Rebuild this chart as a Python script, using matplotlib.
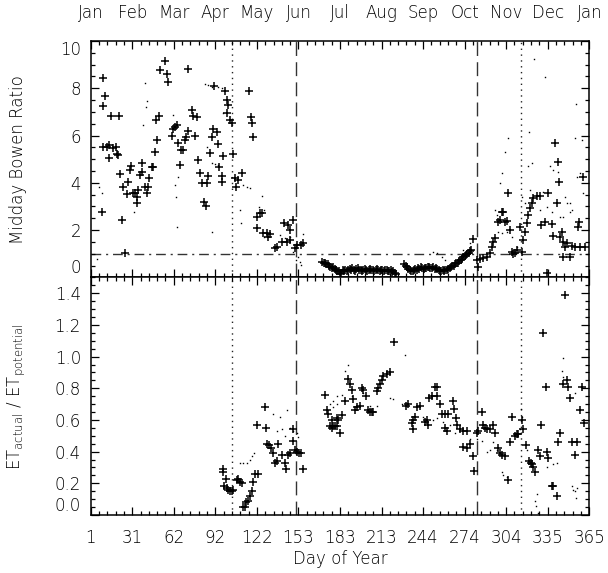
import matplotlib
matplotlib.use('Agg')
import matplotlib.pyplot as plt
from matplotlib.ticker import MultipleLocator, FixedLocator
import numpy as np

plt.rcParams['font.family'] = ['DejaVu Sans']
plt.rcParams['font.weight'] = 'light'
plt.rcParams['axes.labelweight'] = 'light'
plt.rcParams['mathtext.default'] = 'regular'

# ---------------- data ----------------
month_labels = ['Jan', 'Feb', 'Mar', 'Apr', 'May', 'Jun', 'Jul', 'Aug', 'Sep',
                'Oct', 'Nov', 'Dec', 'Jan']
day_labels = ['1', '31', '62', '92', '122', '153', '183', '213', '244', '274',
              '304', '335', '365']

# vertical reference lines (day of year)
dotted_days = [104, 315]
dashed_days = [151, 283]
bowen_ref = 1.0

# Top panel: Bowen ratio, '+' markers (spring / fall)
top_plus_day = [9.7, 9.0, 10.2, 11.4, 15.6, 21.9, 10.2, 12.7, 14.6, 17.5, 14.4, 19.5, 20.0, 21.2,
                23.6, 26.0, 22.4, 24.8, 27.3, 28.5, 29.7, 30.4, 31.6, 33.3, 34.6, 35.0, 35.8,
                37.0, 38.2, 38.7, 40.6, 42.3, 43.1, 43.8, 45.5, 46.7, 47.9, 49.2, 48.7, 51.1,
                51.6, 55.3, 56.5, 57.7, 60.1, 60.8, 62.5, 64.2, 65.0, 66.2, 66.7, 68.6, 69.8,
                70.6, 71.8, 72.3, 74.7, 75.9, 78.4, 77.2, 79.6, 80.8, 82.0, 85.7, 84.0, 84.9,
                86.9, 88.1, 89.3, 90.5, 91.0, 93.0, 94.2, 94.9, 96.6, 97.3, 96.6, 99.0, 100.3,
                101.5, 100.3, 102.7, 103.9, 104.7, 106.4, 107.1, 108.8, 111.2, 116.8, 117.8,
                118.5, 119.7, 122.2, 124.6, 122.2, 125.8, 127.1, 129.5, 131.9, 130.7, 135.5,
                136.7, 140.4, 144.1, 142.1, 145.3, 146.5, 146.5, 148.9, 150.2, 151.9, 154.3,
                155.8,
                280.3, 284.0, 282.8, 285.2, 287.7, 290.1, 292.5, 293.7, 295.0, 296.2, 298.6,
                299.8, 301.0, 302.2, 303.5, 304.7, 305.9, 307.1, 308.3, 309.6, 310.8, 312.0,
                314.4, 315.6, 316.9, 318.1, 319.3, 320.5, 321.7, 323.0, 324.2, 326.6, 329.0,
                329.5, 332.7, 335.1, 334.4, 337.5, 338.8, 340.0, 341.2, 342.4, 343.1, 343.6,
                344.8, 346.1, 347.3, 346.1, 349.0, 350.9, 352.1, 354.6, 358.2, 357.0, 357.7,
                360.7, 361.9]
top_plus_val = [8.45, 2.75, 7.27, 7.67, 6.82, 6.82, 5.53, 5.50, 5.60, 5.49, 5.05, 5.53, 5.22, 5.18,
                2.43, 1.04, 4.37, 3.81, 3.53, 4.05, 4.54, 4.71, 3.58, 3.56, 3.41, 3.16, 3.70,
                4.33, 4.85, 4.47, 3.84, 3.56, 3.84, 4.19, 4.68, 4.65, 5.32, 5.81, 6.66, 6.82,
                8.77, 9.15, 8.59, 8.25, 5.98, 6.26, 6.37, 6.44, 5.69, 4.75, 5.39, 5.39, 5.81,
                5.92, 8.80, 6.20, 7.08, 6.82, 6.77, 5.98, 4.96, 4.43, 4.01, 3.98, 3.20, 3.02,
                4.29, 5.27, 5.92, 6.26, 8.09, 6.16, 5.64, 4.68, 4.29, 5.13, 4.05, 7.88, 7.50,
                7.29, 6.94, 6.65, 6.51, 5.22, 4.19, 3.84, 4.12, 4.40, 7.88, 6.77,
                6.51, 5.92, 2.57, 2.71, 2.07, 2.74, 1.86, 1.89, 1.84, 1.72, 1.23,
                1.30, 1.51, 1.51, 2.29, 2.22, 2.00, 1.58, 2.43, 1.23, 1.37, 1.37,
                1.44,
                1.61, 0.43, 0.74, 0.76, 0.81, 0.88, 1.05, 1.30, 1.51, 1.65, 2.36,
                2.43, 2.78, 2.78, 2.36, 2.40, 3.55, 2.00, 1.09, 0.99, 1.05, 1.16,
                2.15, 1.09, 1.58, 1.94, 2.31, 2.64, 2.92, 3.13, 3.34, 3.45, 3.44,
                2.22, 2.36, 3.55, 0.17, 2.25, 1.75, 5.70, 3.13, 4.89, 4.05, 1.72,
                1.94, 1.51, 1.30, 0.88, 1.44, 0.88, 1.33, 1.30, 1.30, 2.15, 2.36,
                4.26, 1.30]

# Top panel: dense summer band of '+' markers
summer_day = [170, 171, 172, 173, 174, 175, 176, 177, 178, 179,
              180, 181, 182, 183, 184, 185, 186, 187, 188, 189,
              190, 191, 192, 193, 194, 195, 196, 197, 198, 199,
              200, 201, 202, 203, 204, 205, 206, 207, 208, 209,
              210, 211, 212, 213, 214, 215, 216, 217, 218, 219,
              220, 221, 222, 223, 224,
              230, 231, 232, 233, 234, 235, 236, 237, 238, 239,
              240, 241, 242, 243, 244, 245, 246, 247, 248, 249,
              250, 251, 252, 253, 254, 255, 256, 257, 258, 259,
              260, 261, 262, 263, 264, 265, 266, 267, 268, 269,
              270, 271, 272, 273, 274, 275, 276, 277, 278, 279]
summer_val = [0.66, 0.62, 0.60, 0.57, 0.55, 0.50, 0.45, 0.40, 0.42, 0.35,
              0.30, 0.28, 0.25, 0.15, 0.20, 0.30, 0.28, 0.32, 0.25, 0.30,
              0.35, 0.30, 0.38, 0.32, 0.28, 0.35, 0.40, 0.33, 0.30, 0.28,
              0.32, 0.36, 0.30, 0.25, 0.32, 0.35, 0.30, 0.33, 0.28, 0.31,
              0.35, 0.30, 0.28, 0.32, 0.30, 0.27, 0.33, 0.30, 0.25, 0.28,
              0.30, 0.22, 0.25, 0.18, 0.15,
              0.55, 0.50, 0.42, 0.36, 0.30, 0.25, 0.28, 0.30, 0.35, 0.30,
              0.40, 0.35, 0.42, 0.38, 0.35, 0.40, 0.38, 0.42, 0.45, 0.40,
              0.38, 0.42, 0.36, 0.40, 0.35, 0.30, 0.28, 0.25, 0.30, 0.27,
              0.32, 0.30, 0.35, 0.40, 0.45, 0.50, 0.48, 0.55, 0.60, 0.62,
              0.68, 0.72, 0.78, 0.85, 0.90, 0.95, 1.00, 1.05, 1.10, 1.15]

# Top panel: small dots
top_dot_day = [7.3, 9.0, 5.8, 40.6, 42.3, 41.4, 39.4, 32.6, 61.3, 62.5, 63.3, 64.2, 65.0, 84.5,
               86.9, 89.3, 94.2, 96.6, 85.7, 89.3, 91.7, 94.2, 97.8, 89.3, 110.0, 110.5, 112.0,
               114.9, 117.3, 125.8, 124.1, 127.6, 127.6, 139.2, 142.9, 146.5, 148.9, 150.9,
               152.6, 153.8, 154.3, 156.3,
               324.6, 332.7, 355.3, 321.2, 305.4, 303.5, 301.0, 299.8, 322.9, 320.5, 336.3,
               338.8, 342.4, 354.6, 359.4, 355.8, 358.2, 360.7, 331.5, 321.7, 347.3, 350.9,
               350.9, 346.1, 296.2, 297.4, 298.6, 301.0, 304.7, 308.3, 312.0, 315.6, 318.1,
               333.9, 337.5, 343.6, 348.5, 352.1, 329.0, 277.9, 273.0, 268.2, 251.1, 253.6,
               257.2, 259.7]
top_dot_val = [3.84, 3.56, 0.76, 8.23, 7.47, 7.22, 6.44, 2.78, 6.87, 3.91, 3.41, 2.15, 4.26, 8.18,
               8.13, 8.04, 8.06, 7.99, 5.53, 4.82, 4.80, 4.75, 6.94, 1.91, 2.85, 2.31, 3.91,
               3.84, 3.77, 3.44, 2.96, 2.85, 1.72, 1.79, 1.65, 1.72, 1.09, 0.74,
               0.88, 0.67, 0.52, 1.84,
               9.22, 8.48, 7.33, 6.16, 5.88, 5.31, 4.40, 3.98, 4.82, 4.71, 4.71,
               4.54, 4.47, 5.88, 5.81, 4.26, 4.40, 3.55, 3.63, 3.70, 3.41, 3.13,
               2.78, 2.57, 2.85, 2.64, 1.94, 1.86, 1.94, 1.72, 1.30, 3.41, 3.13,
               2.99, 2.78, 2.57, 3.13, 2.85, 2.85, 1.44, 1.16, 0.74, 1.09, 1.02,
               0.88, 0.74]

# Bottom panel: ET_actual / ET_potential, '+' markers
bot_plus_day = [97.4, 97.8, 99.8, 98.3, 100.3, 101.5, 102.7, 103.9, 105.1, 107.6, 108.8, 110.0,
                111.2, 112.4, 113.7, 114.4, 116.1, 117.3, 118.5, 119.7, 120.9, 122.9, 122.2,
                128.3, 129.0, 130.0, 131.4, 132.4, 134.3, 135.6, 136.7, 138.0, 140.4, 142.9,
                143.6, 145.3, 146.5, 148.4, 148.9, 150.2, 151.9, 153.3, 154.3, 156.3, 172.1,
                173.3, 174.5, 175.7, 176.9, 179.4, 180.6,
                176.9, 178.1, 180.6, 181.8, 183.0, 184.2, 186.7, 189.1, 190.3, 191.5, 192.7,
                194.0, 195.2, 197.6, 198.8, 200.0, 202.0, 203.7, 204.9, 206.1, 207.3, 209.8,
                211.0, 212.2, 213.4, 214.6, 217.1, 219.5, 222.4, 231.2, 232.9, 235.3, 236.1,
                236.5, 237.8, 239.5, 241.4, 245.1, 246.3, 247.5, 248.2, 249.9, 252.4, 253.6,
                253.6, 256.0, 257.2, 259.7, 262.1, 259.7, 260.9, 265.3, 266.2, 267.7, 268.7,
                270.6, 273.0, 275.5, 273.0, 275.5, 277.9, 280.4, 281.1, 282.8, 284.0, 286.4,
                287.7, 288.9, 290.1, 292.5, 295.0, 296.2, 298.6, 299.8, 301.0, 303.5, 305.9,
                307.1, 308.3, 310.8, 312.0, 313.2, 315.6, 316.9, 318.8, 321.2, 322.2, 322.9,
                324.2, 325.4, 327.8, 329.0, 329.8, 331.0, 333.2, 334.4, 335.1, 337.5, 338.3,
                341.2, 342.4, 343.6, 345.6, 347.3, 349.0, 349.7, 350.9, 352.1, 354.6, 355.8,
                358.2, 359.9, 361.1]
bot_plus_val = [0.29, 0.27, 0.23, 0.18, 0.17, 0.16, 0.15, 0.15, 0.16, 0.22, 0.23, 0.21,
                0.20, 0.05, 0.05, 0.08, 0.09, 0.12, 0.15, 0.21, 0.26, 0.26, 0.57,
                0.68, 0.55, 0.45, 0.44, 0.42, 0.39, 0.33, 0.34, 0.45, 0.38, 0.33,
                0.29, 0.38, 0.39, 0.47, 0.54, 0.41, 0.40, 0.39, 0.39, 0.29, 0.76,
                0.66, 0.64, 0.56, 0.55, 0.56, 0.61,
                0.60, 0.56, 0.56, 0.60, 0.52, 0.63, 0.72, 0.86, 0.83, 0.79, 0.73,
                0.66, 0.68, 0.69, 0.80, 0.79, 0.75, 0.66, 0.65, 0.65, 0.65, 0.78,
                0.80, 0.83, 0.85, 0.88, 0.89, 0.90, 1.09, 0.69, 0.70, 0.58, 0.54,
                0.60, 0.62, 0.68, 0.69, 0.59, 0.60, 0.57, 0.74, 0.75, 0.81, 0.81,
                0.75, 0.70, 0.64, 0.64, 0.64, 0.55, 0.53, 0.72, 0.67, 0.61, 0.57,
                0.54, 0.53, 0.53, 0.43, 0.42, 0.45, 0.37, 0.28, 0.52, 0.53, 0.65,
                0.57, 0.55, 0.54, 0.54, 0.57, 0.52, 0.42, 0.39, 0.38, 0.37, 0.22,
                0.46, 0.62, 0.50, 0.51, 0.51, 0.60, 0.54, 0.44, 0.34, 0.33, 0.32,
                0.30, 0.27, 0.41, 0.37, 0.57, 1.15, 0.81, 0.40, 0.36, 0.18, 0.18,
                0.12, 0.46, 0.52, 0.83, 1.39, 0.85, 0.81, 0.74, 0.46, 0.38, 0.46,
                0.66, 0.81, 0.58]

# Bottom panel: small dots
bot_dot_day = [110.0, 111.9, 114.9, 117.3, 118.5, 120.2, 134.3, 139.2, 144.1, 136.7, 140.4,
               142.9, 146.5, 148.9, 151.4, 152.6, 175.7, 178.1, 180.6,
               189.1, 186.7, 180.6, 178.1, 184.2, 191.5, 200.0, 204.9, 209.8, 219.5, 222.0,
               230.5, 228.0, 243.8, 251.1, 253.6, 258.4, 263.3, 267.0, 277.9, 282.8, 286.4,
               290.1, 292.5, 295.0, 297.4, 301.0, 302.2, 304.7, 314.9, 315.6, 314.4, 319.3,
               326.6, 325.4, 326.1, 327.8, 333.9, 338.8, 341.2, 344.8, 345.6, 346.1, 352.1,
               353.4, 354.6, 355.8, 355.3, 354.6]
bot_dot_val = [0.33, 0.33, 0.33, 0.35, 0.37, 0.39, 0.64, 0.62, 0.66, 0.53, 0.54,
               0.50, 0.55, 0.53, 0.52, 0.49, 0.70, 0.72, 0.75,
               0.95, 0.91, 0.70, 0.68, 0.76, 0.75, 0.77, 0.69, 0.69, 0.74, 0.73,
               1.01, 0.70, 0.62, 0.60, 0.61, 0.59, 0.57, 0.52, 0.48, 0.48, 0.47,
               0.40, 0.41, 0.46, 0.41, 0.27, 0.25, 0.24, 0.67, 0.62, 0.54, 0.41,
               0.13, 0.09, 0.06, 0.01, 0.30, 0.32, 0.33, 0.91, 0.99, 0.87, 0.18,
               0.16, 0.15, 0.17, 0.11, 0.77]

# ---------------- figure ----------------
fig = plt.figure(figsize=(6.08, 5.73), dpi=100)
ax1 = fig.add_axes([0.1492, 0.5159, 0.8200, 0.4126])
ax2 = fig.add_axes([0.1492, 0.1012, 0.8200, 0.4147])

xticks = np.linspace(1, 365, 13)
FS = 12
plus_kw = dict(linestyle='none', marker='+', markersize=5.5, markeredgewidth=1.1, color='black')
dot_kw = dict(linestyle='none', marker='s', markersize=1.0, markeredgewidth=0, color='black')

for ax in (ax1, ax2):
    ax.set_xlim(1, 365)
    ax.set_xticks(xticks)
    ax.xaxis.set_minor_locator(FixedLocator(np.linspace(1, 365, 61)))
    ax.tick_params(which='both', direction='in', top=True, right=True, width=0.9,
                   labelsize=FS)
    ax.tick_params(which='major', length=5.5)
    ax.tick_params(which='minor', length=3)
    for s in ax.spines.values():
        s.set_linewidth(1.1)
    for d in dotted_days:
        ax.axvline(d, color='#222222', lw=1.0, ls=(0, (1, 3.2)), zorder=1)
    for d in dashed_days:
        ax.axvline(d, color='#333333', lw=1.0, ls=(0, (10, 4.5)), zorder=1)

# top panel
ax1.set_ylim(0, 10)
ax1.set_yticks([0, 2, 4, 6, 8, 10])
ax1.yaxis.set_minor_locator(MultipleLocator(0.5))
ax1.axhline(bowen_ref, color='#333333', lw=1.0, ls=(0, (7, 3.5, 1.5, 3.5)), zorder=1)
ax1.plot(top_dot_day, top_dot_val, **dot_kw)
ax1.plot(top_plus_day, top_plus_val, **plus_kw)
ax1.plot(summer_day, summer_val, **plus_kw)
ax1.tick_params(axis='x', which='both', labelbottom=False, labeltop=True, pad=14)
ax1.set_xticklabels(month_labels)
ax1.tick_params(axis='y', pad=7)
ax1.set_ylabel('Midday Bowen Ratio', fontsize=FS, fontweight='light')
ax1.yaxis.set_label_coords(-0.128, 0.5)

# bottom panel
ax2.set_ylim(0, 1.5)
ax2.set_yticks([0.0, 0.2, 0.4, 0.6, 0.8, 1.0, 1.2, 1.4])
ax2.set_yticklabels(['0.0', '0.2', '0.4', '0.6', '0.8', '1.0', '1.2', '1.4'])
ax2.yaxis.set_minor_locator(MultipleLocator(0.05))
ax2.plot(bot_dot_day, bot_dot_val, **dot_kw)
ax2.plot(bot_plus_day, bot_plus_val, **plus_kw)
ax2.set_xticklabels(day_labels)
ax2.tick_params(axis='x', which='both', pad=10)
ax2.tick_params(axis='y', pad=7)
ax2.set_xlabel('Day of Year', fontsize=FS, fontweight='light', labelpad=2)
ax2.set_ylabel(r'ET$_{actual}$ / ET$_{potential}$', fontsize=FS, fontweight='light')
ax2.yaxis.set_label_coords(-0.128, 0.5)

# keep end labels inside each panel
labs1 = ax1.get_yticklabels()
labs1[0].set_va('bottom')
labs1[-1].set_va('top')
labs2 = ax2.get_yticklabels()
labs2[0].set_va('bottom')

fig.savefig('out.png', dpi=100)
